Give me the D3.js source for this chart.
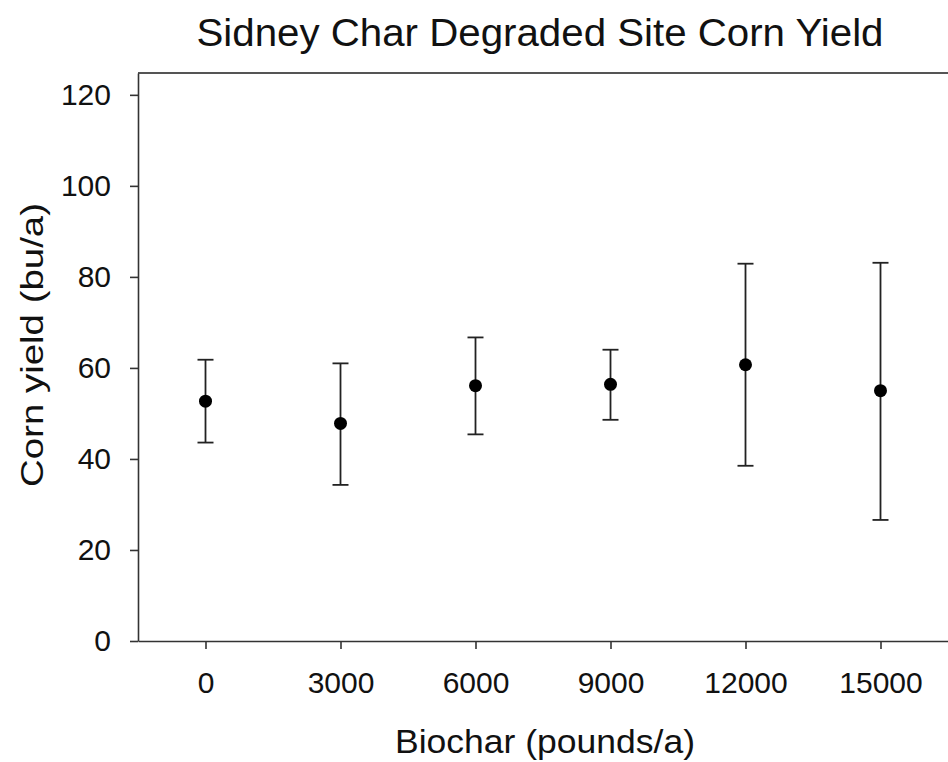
<!DOCTYPE html>
<html>
  <head>
    <meta charset="utf-8" />
    <script src="https://d3js.org/d3.v7.min.js"></script>
    <title>Sidney Char Degraded Site Corn Yield</title>
    <style>
        body { margin: 0; background: #fff; }
        text { font-family: Arial, "Liberation Sans", sans-serif; fill: #111; }
    </style>
  </head>
  <body>
    <svg id="chart" width="948" height="762"></svg>

    <script>
        // data
        var rates = [0, 3000, 6000, 9000, 12000, 15000];
        var yieldMean = [52.7, 47.8, 56.1, 56.4, 60.7, 55.0];
        var yieldUpper = [61.8, 61.0, 66.7, 64.0, 82.9, 83.1];
        var yieldLower = [43.6, 34.3, 45.4, 48.6, 38.5, 26.6];
        var yTicks = [0, 20, 40, 60, 80, 100, 120];

        var svg = d3.select("#chart");

        // plot box
        var plotLeft = 138, plotRight = 948, plotTop = 73, plotBottom = 641;

        var x = d3.scaleLinear().domain([-1500, 16500]).range([plotLeft, plotRight]);
        var y = d3.scaleLinear().domain([0, 124.8]).range([plotBottom, plotTop]);

        var points = rates.map(function(r, i){
            return { rate: r, mean: yieldMean[i], hi: yieldUpper[i], lo: yieldLower[i] };
        });

        // top frame line
        svg.append("line")
            .attr("x1", plotLeft).attr("x2", plotRight)
            .attr("y1", plotTop).attr("y2", plotTop)
            .attr("stroke", "#555").attr("stroke-width", 2);

        // axes
        var xAxis = svg.append("g")
            .attr("transform", "translate(0," + plotBottom + ")")
            .call(d3.axisBottom(x).tickValues(rates).tickFormat(d3.format("d"))
                .tickSize(8).tickPadding(23).tickSizeOuter(0));
        var yAxis = svg.append("g")
            .attr("transform", "translate(" + plotLeft + ",0)")
            .call(d3.axisLeft(y).tickValues(yTicks).tickFormat(d3.format("d"))
                .tickSize(8).tickPadding(19).tickSizeOuter(0));

        [xAxis, yAxis].forEach(function(a){
            a.select(".domain").attr("stroke", "#333").attr("stroke-width", 1.6);
            a.selectAll(".tick line").attr("stroke", "#333").attr("stroke-width", 1.6);
            a.selectAll(".tick text")
                .style("font-size", "30px")
                .style("font-family", "Arial, 'Liberation Sans', sans-serif")
                .attr("fill", "#111");
        });

        // error bars
        var bars = svg.append("g").selectAll("g").data(points).enter().append("g")
            .attr("stroke", "#222").attr("stroke-width", 1.8);
        bars.append("line")
            .attr("x1", function(d){ return x(d.rate); })
            .attr("x2", function(d){ return x(d.rate); })
            .attr("y1", function(d){ return y(d.hi); })
            .attr("y2", function(d){ return y(d.lo); });
        bars.append("line")
            .attr("x1", function(d){ return x(d.rate) - 8; })
            .attr("x2", function(d){ return x(d.rate) + 8; })
            .attr("y1", function(d){ return y(d.hi); })
            .attr("y2", function(d){ return y(d.hi); });
        bars.append("line")
            .attr("x1", function(d){ return x(d.rate) - 8; })
            .attr("x2", function(d){ return x(d.rate) + 8; })
            .attr("y1", function(d){ return y(d.lo); })
            .attr("y2", function(d){ return y(d.lo); });

        // means
        svg.append("g").selectAll("circle").data(points).enter().append("circle")
            .attr("cx", function(d){ return x(d.rate); })
            .attr("cy", function(d){ return y(d.mean); })
            .attr("r", 6.5)
            .attr("fill", "#000");

        // titles
        svg.append("text")
            .attr("x", 540).attr("y", 46)
            .attr("text-anchor", "middle")
            .attr("textLength", 687).attr("lengthAdjust", "spacingAndGlyphs")
            .style("font-size", "38px")
            .text("Sidney Char Degraded Site Corn Yield");

        svg.append("text")
            .attr("x", 545).attr("y", 753)
            .attr("text-anchor", "middle")
            .attr("textLength", 300).attr("lengthAdjust", "spacingAndGlyphs")
            .style("font-size", "33px")
            .text("Biochar (pounds/a)");

        svg.append("text")
            .attr("transform", "translate(43,345) rotate(-90)")
            .attr("text-anchor", "middle")
            .attr("textLength", 284).attr("lengthAdjust", "spacingAndGlyphs")
            .style("font-size", "32px")
            .text("Corn yield (bu/a)");
    </script>
  </body>
</html>
